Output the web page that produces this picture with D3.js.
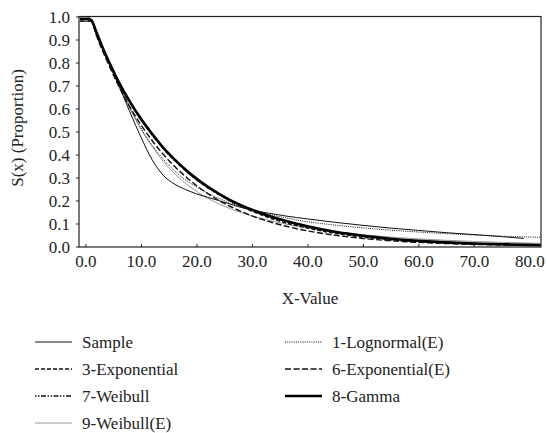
<!DOCTYPE html>
<html><head><meta charset="utf-8">
<script src="https://cdn.jsdelivr.net/npm/d3@7"></script>
<style>body{margin:0;background:#fff}</style>
</head><body><svg id="c" width="547" height="433"></svg>
<script>
const xs =        [-1,   0,    1,    2,    3,    4,    6,    8,    10,   12,   14,   16,   18,   20,   22,   24,   26,   28,   30,   33,   36,   40,   45,   50,   55,   60,   65,   70,   75,   80,   82];
const gamma =     [0.99, 0.99, 0.985,0.93, 0.87, 0.815,0.715,0.63, 0.555,0.49, 0.43, 0.38, 0.335,0.295,0.26, 0.23, 0.203,0.18, 0.16, 0.134,0.112,0.088,0.064,0.047,0.034,0.025,0.018,0.013,0.010,0.007,0.006];
const expo =      [0.98, 0.98, 0.98, 0.919,0.863,0.81, 0.713,0.627,0.552,0.486,0.427,0.376,0.331,0.291,0.256,0.226,0.198,0.175,0.154,0.126,0.103,0.080,0.057,0.041,0.029,0.021,0.015,0.011,0.0075,0.0053,0.0047];
const expoE =     [0.98, 0.98, 0.98, 0.915,0.855,0.80, 0.697,0.607,0.529,0.461,0.401,0.35, 0.305,0.265,0.231,0.201,0.175,0.153,0.133,0.109,0.089,0.068,0.049,0.035,0.025,0.018,0.013,0.009,0.0066,0.0047,0.0041];
const weib =      [0.99, 0.99, 0.985,0.925,0.868,0.813,0.713,0.627,0.551,0.485,0.427,0.376,0.331,0.292,0.258,0.228,0.201,0.178,0.158,0.131,0.109,0.086,0.062,0.045,0.033,0.024,0.018,0.013,0.0095,0.007,0.0063];
const weibE =     [0.99, 0.99, 0.98, 0.925,0.866,0.81, 0.70, 0.60, 0.51, 0.435,0.37, 0.318,0.275,0.24, 0.21, 0.186,0.165,0.148,0.133,0.114,0.098,0.081,0.064,0.051,0.041,0.033,0.027,0.022,0.018,0.015,0.014];
const lognE =     [0.99, 0.99, 0.98, 0.93, 0.875,0.82, 0.71, 0.605,0.515,0.44, 0.38, 0.33, 0.29, 0.26, 0.233,0.21, 0.19, 0.173,0.158,0.14, 0.125,0.108,0.093,0.081,0.071,0.063,0.056,0.050,0.045,0.041,0.040];
const sampleX =   [-1,   0,    1,    2,    4,    6,    8,    10,   12,   14,   16,   18,   20,   22,   24,   26,   28,   30,   33,   36,   40,   45,   50,   55,   60,   65,   70,   75,   79];
const sampleY =   [1.0,  1.0,  0.99, 0.93, 0.81, 0.70, 0.585,0.475,0.378,0.31, 0.272,0.248,0.229,0.214,0.2,  0.185,0.17, 0.158,0.145,0.133,0.12, 0.105,0.092,0.08, 0.07, 0.06, 0.052,0.043,0.035];
const yTicks = [0,0.1,0.2,0.3,0.4,0.5,0.6,0.7,0.8,0.9,1.0];
const xTicks = [0,10,20,30,40,50,60,70,80];

const FONT = "'Liberation Serif','Times New Roman','DejaVu Serif',serif";
const svg = d3.select("#c").attr("font-family", FONT);
const x = d3.scaleLinear().domain([-1.17, 82.1]).range([79, 541]);
const y = d3.scaleLinear().domain([0, 1]).range([246.5, 16.5]);

const styles = {
  "Sample": {w:1, dash:null, c:"#111"},
  "1-Lognormal(E)": {w:1, dash:"1,1.2", c:"#111"},
  "3-Exponential": {w:1.4, dash:"4,2", c:"#111"},
  "6-Exponential(E)": {w:1.4, dash:"6,2.5", c:"#111"},
  "7-Weibull": {w:1.3, dash:"1.5,1.5,1.5,1.5,5,1.5", c:"#111"},
  "8-Gamma": {w:2.6, dash:null, c:"#000"},
  "9-Weibull(E)": {w:1, dash:null, c:"#999"}
};
const data = {
  "Sample": sampleX.map((v,i)=>[v,sampleY[i]]),
  "1-Lognormal(E)": xs.map((v,i)=>[v,lognE[i]]),
  "3-Exponential": xs.map((v,i)=>[v,expo[i]]),
  "6-Exponential(E)": xs.map((v,i)=>[v,expoE[i]]),
  "7-Weibull": xs.map((v,i)=>[v,weib[i]]),
  "8-Gamma": xs.map((v,i)=>[v,gamma[i]]),
  "9-Weibull(E)": xs.map((v,i)=>[v,weibE[i]])
};

const g = svg.append("g");
const line = d3.line().x(d=>x(d[0])).y(d=>y(d[1])).curve(d3.curveMonotoneX);
const order = ["9-Weibull(E)","1-Lognormal(E)","3-Exponential","6-Exponential(E)","7-Weibull","8-Gamma","Sample"];
order.forEach(n=>{
  const s = styles[n];
  g.append("path").attr("d", line(data[n])).attr("fill","none")
   .attr("stroke", s.c).attr("stroke-width", s.w)
   .attr("stroke-dasharray", s.dash);
});

svg.append("rect").attr("x",79).attr("y",16.5).attr("width",462).attr("height",230.5)
  .attr("fill","none").attr("stroke","#222").attr("stroke-width",1.2);

const ya = svg.append("g").attr("transform","translate(79,0)")
  .call(d3.axisLeft(y).tickValues(yTicks).tickFormat(d3.format(".1f")).tickSize(3).tickPadding(6));
ya.attr("font-family", FONT);
ya.select(".domain").remove();
ya.selectAll("text").attr("font-family", FONT).attr("font-size","17px").attr("fill","#222").attr("dy","0.35em");
ya.selectAll("line").attr("stroke","#222");

const xa = svg.append("g").attr("transform","translate(0,247)")
  .call(d3.axisBottom(x).tickValues(xTicks).tickFormat(d3.format(".1f")).tickSize(-3).tickPadding(5));
xa.attr("font-family", FONT);
xa.select(".domain").remove();
xa.selectAll("text").attr("font-family", FONT).attr("font-size","17px").attr("fill","#222").attr("dy","0.9em");
xa.selectAll("line").attr("stroke","#222");

svg.append("text").attr("x",310).attr("y",304).attr("text-anchor","middle").attr("font-family", FONT).attr("font-size","17px").attr("fill","#222").text("X-Value");
svg.append("text").attr("transform","translate(23,128) rotate(-90)").attr("text-anchor","middle").attr("font-family", FONT).attr("font-size","17px").attr("fill","#222").text("S(x) (Proportion)");

const legendItems = [
  ["Sample",35,342],["3-Exponential",35,369],["7-Weibull",35,396],["9-Weibull(E)",35,423],
  ["1-Lognormal(E)",285,342],["6-Exponential(E)",285,369],["8-Gamma",285,396]
];
legendItems.forEach(([n,lx,ly])=>{
  const s = styles[n];
  svg.append("line").attr("x1",lx).attr("x2",lx+37).attr("y1",ly).attr("y2",ly)
    .attr("stroke",s.c).attr("stroke-width",s.w).attr("stroke-dasharray",s.dash);
  svg.append("text").attr("x",lx+47).attr("y",ly).attr("dy","0.35em").attr("font-family", FONT).attr("font-size","17px").attr("fill","#222").text(n);
});
</script></body></html>
